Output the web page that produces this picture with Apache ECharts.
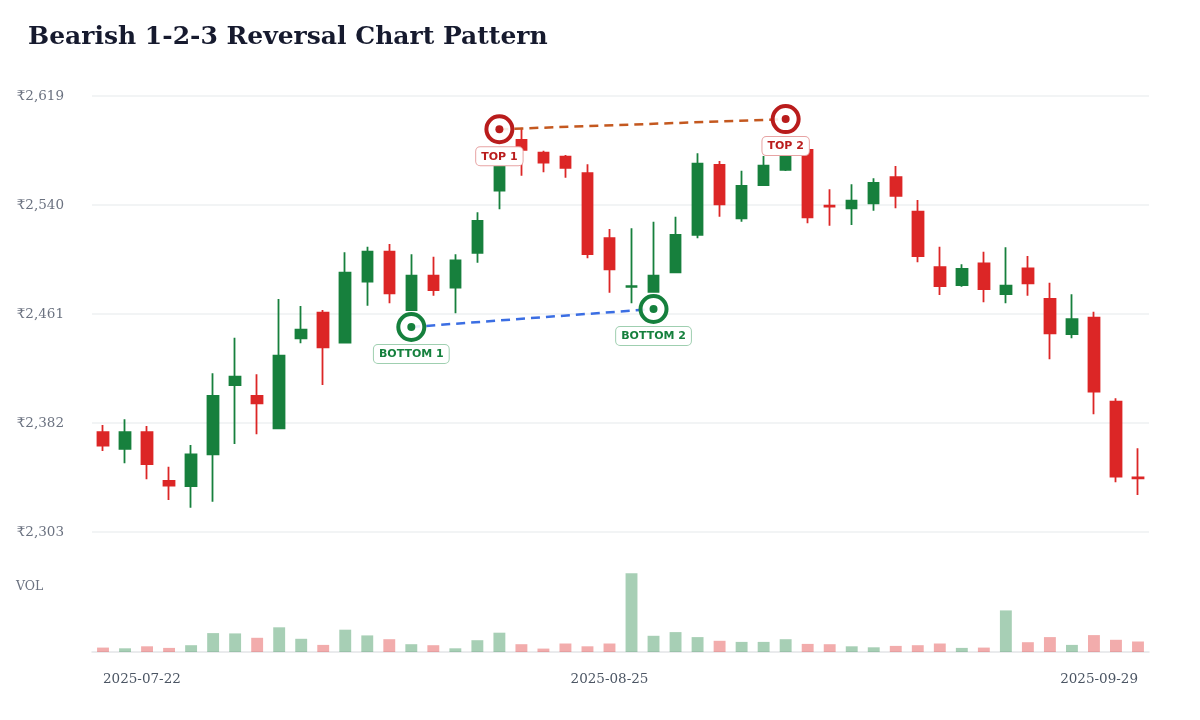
<!DOCTYPE html>
<html>
<head>
<meta charset="utf-8">
<title>Bearish 1-2-3 Reversal Chart Pattern</title>
<script src="https://cdn.jsdelivr.net/npm/echarts@6/dist/echarts.min.js"></script>
<style>
  html, body { margin: 0; padding: 0; background: #fff; }
  #chart { width: 1200px; height: 720px; }
</style>
</head>
<body>
<div id="chart"></div>
<script>
// trading days (NSE holidays 15 Aug and 27 Aug skipped)
const dates = [
  '2025-07-22','2025-07-23','2025-07-24','2025-07-25','2025-07-28','2025-07-29','2025-07-30','2025-07-31',
  '2025-08-01','2025-08-04','2025-08-05','2025-08-06','2025-08-07','2025-08-08','2025-08-11','2025-08-12',
  '2025-08-13','2025-08-14','2025-08-18','2025-08-19','2025-08-20','2025-08-21','2025-08-22','2025-08-25',
  '2025-08-26','2025-08-28','2025-08-29','2025-09-01','2025-09-02','2025-09-03','2025-09-04','2025-09-05',
  '2025-09-08','2025-09-09','2025-09-10','2025-09-11','2025-09-12','2025-09-15','2025-09-16','2025-09-17',
  '2025-09-18','2025-09-19','2025-09-22','2025-09-23','2025-09-24','2025-09-25','2025-09-26','2025-09-29'
];
const opens = [
  2375.3, 2363.2, 2375.3, 2340.0, 2336.3, 2359.3, 2409.5, 2401.6, 2378.2, 2443.4, 2461.9, 2440.2,
  2484.4, 2506.2, 2463.9, 2488.8, 2480.1, 2505.4, 2550.4, 2587.1, 2577.9, 2575.0, 2563.0, 2515.9,
  2480.6, 2477.0, 2491.2, 2518.3, 2569.0, 2530.4, 2554.5, 2565.4, 2579.9, 2539.5, 2537.6, 2541.2,
  2560.1, 2535.1, 2494.9, 2482.0, 2497.7, 2475.5, 2494.1, 2471.9, 2446.5, 2458.3, 2397.4, 2342.6
];
const closes = [
  2365.6, 2375.3, 2352.3, 2336.6, 2359.3, 2401.6, 2415.6, 2396.3, 2430.8, 2449.6, 2436.9, 2490.9,
  2506.2, 2476.0, 2488.8, 2478.4, 2499.9, 2528.4, 2579.9, 2579.9, 2570.7, 2567.0, 2504.5, 2493.4,
  2481.1, 2488.8, 2518.3, 2569.9, 2540.5, 2553.8, 2568.5, 2579.0, 2531.1, 2538.8, 2543.1, 2556.0,
  2546.7, 2503.0, 2481.3, 2493.6, 2479.1, 2481.5, 2483.3, 2447.0, 2457.2, 2404.7, 2343.1, 2341.9
];
const lows = [
  2361.7, 2352.8, 2341.2, 2326.2, 2320.6, 2325.0, 2366.8, 2373.8, 2377.6, 2439.8, 2409.5, 2439.6,
  2467.0, 2468.8, 2463.9, 2474.3, 2461.5, 2498.2, 2536.9, 2561.2, 2563.7, 2559.8, 2501.4, 2476.4,
  2468.8, 2477.0, 2490.5, 2515.9, 2531.5, 2527.9, 2553.8, 2564.6, 2526.7, 2525.0, 2525.5, 2535.9,
  2537.6, 2498.5, 2474.8, 2480.8, 2469.5, 2468.8, 2474.3, 2428.2, 2443.4, 2388.3, 2339.0, 2329.8
];
const highs = [
  2380.6, 2384.7, 2379.8, 2350.3, 2366.1, 2418.0, 2443.8, 2417.3, 2471.9, 2466.8, 2463.9, 2505.7,
  2509.8, 2511.7, 2504.3, 2502.5, 2504.3, 2534.7, 2582.0, 2596.0, 2579.4, 2576.2, 2569.5, 2522.6,
  2523.1, 2527.9, 2531.5, 2577.5, 2571.9, 2564.9, 2575.5, 2589.3, 2580.6, 2551.4, 2555.0, 2559.4,
  2568.3, 2543.6, 2509.8, 2497.0, 2506.2, 2509.3, 2503.0, 2483.7, 2475.3, 2462.7, 2399.9, 2363.7
];
// volume, million shares
const volumes = [
  0.44, 0.37, 0.57, 0.41, 0.68, 1.89, 1.86, 1.42, 2.47, 1.32, 0.71, 2.23,
  1.66, 1.28, 0.78, 0.68, 0.37, 1.18, 1.93, 0.78, 0.34, 0.85, 0.57, 0.85,
  7.88, 1.62, 1.99, 1.49, 1.12, 1.01, 1.01, 1.28, 0.81, 0.78, 0.57, 0.47,
  0.61, 0.68, 0.85, 0.41, 0.44, 4.16, 0.98, 1.49, 0.71, 1.69, 1.22, 1.05
];
const yTicks = [2303, 2382, 2461, 2540, 2619];

// pattern points (candle index)
const topIdx = [18, 31];
const topNames = ['TOP 1', 'TOP 2'];
const bottomIdx = [14, 25];
const bottomNames = ['BOTTOM 1', 'BOTTOM 2'];

const UP = '#17803d';
const DOWN = '#dc2626';
const SERIF = "'DejaVu Serif', serif";
const SANS = "'DejaVu Sans', sans-serif";

const candles = dates.map((d, i) => [opens[i], closes[i], lows[i], highs[i]]);
const volData = volumes.map((v, i) => ({
  value: v,
  itemStyle: { color: closes[i] >= opens[i] ? 'rgba(23,128,61,0.38)' : 'rgba(220,38,38,0.38)' }
}));
// markers sit just outside the wick
const topPts = topIdx.map((k, j) => ({ value: [k, highs[k] * 1.005], name: topNames[j] }));
const bottomPts = bottomIdx.map((k, j) => ({ value: [k, lows[k] * 0.995], name: bottomNames[j] }));

function markerLabel(color, border) {
  return {
    show: true,
    position: 'bottom',
    distance: 3,
    formatter: p => p.name,
    fontFamily: SANS,
    fontWeight: 'bold',
    fontSize: 11,
    color: color,
    backgroundColor: '#fff',
    borderColor: border,
    borderWidth: 1,
    borderRadius: 4,
    padding: [4, 5, 3, 5]
  };
}

const chart = echarts.init(document.getElementById('chart'));
chart.setOption({
  animation: false,
  backgroundColor: '#fff',
  title: {
    text: 'Bearish 1-2-3 Reversal Chart Pattern',
    left: 23,
    top: 20,
    textStyle: { fontFamily: SERIF, fontSize: 25, fontWeight: 'bold', color: '#161a2e' }
  },
  graphic: [{
    type: 'text',
    left: 16,
    top: 580,
    style: { text: 'VOL', fontFamily: SERIF, fontSize: 12.5, fill: '#6b7280' }
  }],
  grid: [
    { left: 92, right: 51, top: 96, height: 436 },
    { left: 92, right: 51, top: 565, height: 87 }
  ],
  xAxis: [
    {
      type: 'category', data: dates, gridIndex: 0, boundaryGap: true,
      axisLine: { show: false }, axisTick: { show: false }, axisLabel: { show: false }
    },
    {
      type: 'category', data: dates, gridIndex: 1, boundaryGap: true,
      axisLine: { show: true, lineStyle: { color: '#e3e5e8', width: 1.5 } },
      axisTick: { show: false },
      axisLabel: {
        interval: i => i === 0 || i === 23 || i === dates.length - 1,
        alignMinLabel: 'left',
        alignMaxLabel: 'right',
        margin: 20,
        fontFamily: SERIF,
        fontSize: 13.5,
        color: '#4b5563'
      }
    }
  ],
  yAxis: [
    {
      type: 'value', gridIndex: 0,
      min: yTicks[0], max: yTicks[yTicks.length - 1], interval: yTicks[1] - yTicks[0],
      axisLine: { show: false }, axisTick: { show: false },
      splitLine: { lineStyle: { color: '#eef0f2', width: 1.5 } },
      axisLabel: {
        margin: 28,
        fontFamily: SERIF,
        fontSize: 13.5,
        color: '#6b7280',
        formatter: v => '₹' + Math.round(v).toLocaleString('en-US')
      }
    },
    {
      type: 'value', gridIndex: 1, min: 0, max: 8.7,
      show: false, splitLine: { show: false }
    }
  ],
  series: [
    {
      type: 'bar', name: 'VOL', xAxisIndex: 1, yAxisIndex: 1,
      barWidth: '54%', data: volData
    },
    {
      type: 'candlestick', name: 'Price', xAxisIndex: 0, yAxisIndex: 0,
      barWidth: '50%',
      data: candles,
      itemStyle: {
        color: UP, color0: DOWN,
        borderColor: UP, borderColor0: DOWN,
        borderWidth: 1.8
      }
    },
    {
      type: 'line', name: 'Top line', xAxisIndex: 0, yAxisIndex: 0,
      data: topPts.map(p => p.value), symbol: 'none', z: 5,
      lineStyle: { color: '#c4581f', width: 2.5, type: [9, 6] }
    },
    {
      type: 'line', name: 'Bottom line', xAxisIndex: 0, yAxisIndex: 0,
      data: bottomPts.map(p => p.value), symbol: 'none', z: 5,
      lineStyle: { color: '#3b6ee3', width: 2.5, type: [9, 6] }
    },
    {
      type: 'scatter', name: 'Tops', xAxisIndex: 0, yAxisIndex: 0, z: 6,
      data: topPts, symbol: 'circle', symbolSize: 26,
      itemStyle: { color: 'rgba(255,255,255,0.88)', borderColor: '#b91c1c', borderWidth: 4, opacity: 1 },
      label: markerLabel('#b91c1c', '#e7a3a3')
    },
    {
      type: 'scatter', name: 'Bottoms', xAxisIndex: 0, yAxisIndex: 0, z: 6,
      data: bottomPts, symbol: 'circle', symbolSize: 26,
      itemStyle: { color: 'rgba(255,255,255,0.88)', borderColor: '#15803d', borderWidth: 4, opacity: 1 },
      label: markerLabel('#15803d', '#9fcfb0')
    },
    {
      type: 'scatter', name: 'Top dots', xAxisIndex: 0, yAxisIndex: 0, z: 7,
      data: topPts.map(p => p.value), symbol: 'circle', symbolSize: 8,
      itemStyle: { color: '#b91c1c', opacity: 1 }
    },
    {
      type: 'scatter', name: 'Bottom dots', xAxisIndex: 0, yAxisIndex: 0, z: 7,
      data: bottomPts.map(p => p.value), symbol: 'circle', symbolSize: 8,
      itemStyle: { color: '#15803d', opacity: 1 }
    }
  ]
});
</script>
</body>
</html>
